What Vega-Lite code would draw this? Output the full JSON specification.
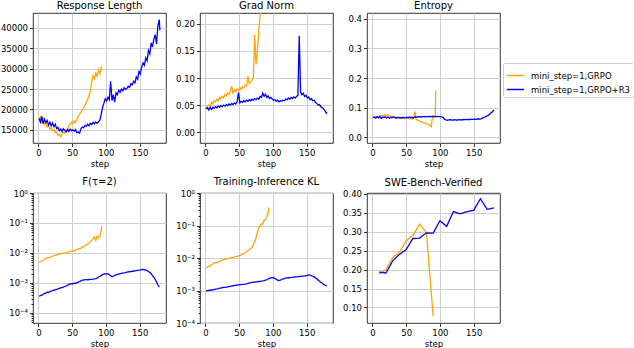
{
"$schema": "https://vega.github.io/schema/vega-lite/v6.json",
"padding": {"left": 0, "top": 0, "right": 0, "bottom": 0},
"config": {
 "font": "DejaVu Sans",
 "view": {"stroke": "#000", "strokeWidth": 0.8},
 "axis": {"domain": false, "grid": true, "gridColor": "#cfcfcf", "gridWidth": 1, "tickColor": "#000", "tickSize": 3.5, "tickWidth": 0.8, "labelColor": "#000", "labelFontSize": 8.5, "labelPadding": 2, "titleFontSize": 8.5, "titleFontWeight": "normal", "titleColor": "#000", "titlePadding": 2, "labelFlush": false},
 "title": {"fontSize": 10, "fontWeight": "normal", "color": "#000", "offset": 2}
},
"datasets": {
 "ts": [
{"s":1,"g":"GRPO","rl":17500,"gn":0.045,"en":0.068,"f":0.0049,"kl":0.0049},
{"s":3,"g":"GRPO","rl":18200,"gn":0.048,"en":0.066,"f":0.0051,"kl":0.0052},
{"s":5,"g":"GRPO","rl":17000,"gn":0.050,"en":0.069,"f":0.0054,"kl":0.0055},
{"s":7,"g":"GRPO","rl":17800,"gn":0.047,"en":0.067,"f":0.0056,"kl":0.0058},
{"s":9,"g":"GRPO","rl":16300,"gn":0.055,"en":0.070,"f":0.0060,"kl":0.0062},
{"s":11,"g":"GRPO","rl":16800,"gn":0.052,"en":0.068,"f":0.0065,"kl":0.0065},
{"s":13,"g":"GRPO","rl":15700,"gn":0.058,"en":0.072,"f":0.0068,"kl":0.0071},
{"s":15,"g":"GRPO","rl":16200,"gn":0.056,"en":0.074,"f":0.0069,"kl":0.0072},
{"s":17,"g":"GRPO","rl":15200,"gn":0.061,"en":0.072,"f":0.0071,"kl":0.0072},
{"s":19,"g":"GRPO","rl":15500,"gn":0.058,"en":0.076,"f":0.0074,"kl":0.0076},
{"s":21,"g":"GRPO","rl":14800,"gn":0.064,"en":0.073,"f":0.0078,"kl":0.0079},
{"s":23,"g":"GRPO","rl":15100,"gn":0.061,"en":0.075,"f":0.0081,"kl":0.0083},
{"s":25,"g":"GRPO","rl":14300,"gn":0.066,"en":0.072,"f":0.0083,"kl":0.0085},
{"s":27,"g":"GRPO","rl":14500,"gn":0.063,"en":0.070,"f":0.0087,"kl":0.0089},
{"s":29,"g":"GRPO","rl":13700,"gn":0.070,"en":0.071,"f":0.0089,"kl":0.0091},
{"s":31,"g":"GRPO","rl":13900,"gn":0.067,"en":0.068,"f":0.0091,"kl":0.0093},
{"s":33,"g":"GRPO","rl":13300,"gn":0.073,"en":0.069,"f":0.0093,"kl":0.0095},
{"s":35,"g":"GRPO","rl":14000,"gn":0.070,"en":0.067,"f":0.0095,"kl":0.0098},
{"s":37,"g":"GRPO","rl":14400,"gn":0.076,"en":0.068,"f":0.0098,"kl":0.0100},
{"s":39,"g":"GRPO","rl":14100,"gn":0.085,"en":0.066,"f":0.0100,"kl":0.0102},
{"s":41,"g":"GRPO","rl":15000,"gn":0.072,"en":0.067,"f":0.0102,"kl":0.0105},
{"s":43,"g":"GRPO","rl":14700,"gn":0.078,"en":0.065,"f":0.0105,"kl":0.0107},
{"s":45,"g":"GRPO","rl":16000,"gn":0.075,"en":0.066,"f":0.0107,"kl":0.0110},
{"s":47,"g":"GRPO","rl":16500,"gn":0.080,"en":0.064,"f":0.0110,"kl":0.0112},
{"s":49,"g":"GRPO","rl":16900,"gn":0.077,"en":0.065,"f":0.0112,"kl":0.0117},
{"s":51,"g":"GRPO","rl":16600,"gn":0.082,"en":0.064,"f":0.0115,"kl":0.0120},
{"s":53,"g":"GRPO","rl":17200,"gn":0.079,"en":0.063,"f":0.0120,"kl":0.0126},
{"s":55,"g":"GRPO","rl":16800,"gn":0.084,"en":0.062,"f":0.0123,"kl":0.0132},
{"s":57,"g":"GRPO","rl":17600,"gn":0.081,"en":0.063,"f":0.0129,"kl":0.0138},
{"s":59,"g":"GRPO","rl":18300,"gn":0.087,"en":0.061,"f":0.0135,"kl":0.0145},
{"s":61,"g":"GRPO","rl":18900,"gn":0.085,"en":0.062,"f":0.0138,"kl":0.0155},
{"s":63,"g":"GRPO","rl":19300,"gn":0.103,"en":0.086,"f":0.0145,"kl":0.0166},
{"s":65,"g":"GRPO","rl":19900,"gn":0.090,"en":0.060,"f":0.0155,"kl":0.0178},
{"s":67,"g":"GRPO","rl":20300,"gn":0.093,"en":0.057,"f":0.0166,"kl":0.0195},
{"s":69,"g":"GRPO","rl":21000,"gn":0.096,"en":0.055,"f":0.0174,"kl":0.0214},
{"s":71,"g":"GRPO","rl":21800,"gn":0.100,"en":0.053,"f":0.0186,"kl":0.0251},
{"s":73,"g":"GRPO","rl":22500,"gn":0.180,"en":0.052,"f":0.0195,"kl":0.0316},
{"s":75,"g":"GRPO","rl":23400,"gn":0.125,"en":0.050,"f":0.0214,"kl":0.0417},
{"s":77,"g":"GRPO","rl":24500,"gn":0.150,"en":0.048,"f":0.0234,"kl":0.060},
{"s":79,"g":"GRPO","rl":26800,"gn":0.185,"en":0.046,"f":0.0263,"kl":0.083},
{"s":81,"g":"GRPO","rl":28300,"gn":0.215,"en":0.045,"f":0.0295,"kl":0.100},
{"s":83,"g":"GRPO","rl":27500,"gn":0.26,"en":0.043,"f":0.0339,"kl":0.112},
{"s":85,"g":"GRPO","rl":28900,"gn":0.30,"en":0.040,"f":0.0263,"kl":0.110},
{"s":87,"g":"GRPO","rl":28100,"gn":0.34,"en":0.035,"f":0.0363,"kl":0.145},
{"s":89,"g":"GRPO","rl":29600,"gn":0.38,"en":0.066,"f":0.0316,"kl":0.151},
{"s":91,"g":"GRPO","rl":28700,"gn":0.42,"en":0.068,"f":0.0355,"kl":0.182},
{"s":93,"g":"GRPO","rl":30200,"gn":0.46,"en":0.069,"f":0.055,"kl":0.251},
{"s":94,"g":"GRPO","rl":29800,"gn":0.50,"en":0.158,"f":0.078,"kl":0.355},
{"s":1,"g":"GRPO+R3","rl":17800,"gn":0.043,"en":0.066,"f":0.00036,"kl":0.00100},
{"s":3,"g":"GRPO+R3","rl":16900,"gn":0.045,"en":0.068,"f":0.00038,"kl":0.00098},
{"s":5,"g":"GRPO+R3","rl":18300,"gn":0.041,"en":0.064,"f":0.00039,"kl":0.00101},
{"s":7,"g":"GRPO+R3","rl":16500,"gn":0.046,"en":0.069,"f":0.00041,"kl":0.00103},
{"s":9,"g":"GRPO+R3","rl":17600,"gn":0.042,"en":0.065,"f":0.00045,"kl":0.00102},
{"s":11,"g":"GRPO+R3","rl":16800,"gn":0.046,"en":0.070,"f":0.00046,"kl":0.00107},
{"s":13,"g":"GRPO+R3","rl":17300,"gn":0.044,"en":0.063,"f":0.00049,"kl":0.00106},
{"s":15,"g":"GRPO+R3","rl":16200,"gn":0.047,"en":0.068,"f":0.00048,"kl":0.00110},
{"s":17,"g":"GRPO+R3","rl":16900,"gn":0.045,"en":0.066,"f":0.00052,"kl":0.00112},
{"s":19,"g":"GRPO+R3","rl":16000,"gn":0.048,"en":0.069,"f":0.00053,"kl":0.00115},
{"s":21,"g":"GRPO+R3","rl":16700,"gn":0.046,"en":0.065,"f":0.00055,"kl":0.00119},
{"s":23,"g":"GRPO+R3","rl":15800,"gn":0.049,"en":0.068,"f":0.00057,"kl":0.00118},
{"s":25,"g":"GRPO+R3","rl":16400,"gn":0.047,"en":0.064,"f":0.00059,"kl":0.00122},
{"s":27,"g":"GRPO+R3","rl":15300,"gn":0.050,"en":0.067,"f":0.00061,"kl":0.00124},
{"s":29,"g":"GRPO+R3","rl":15600,"gn":0.048,"en":0.065,"f":0.00063,"kl":0.00125},
{"s":31,"g":"GRPO+R3","rl":14800,"gn":0.051,"en":0.068,"f":0.00066,"kl":0.00127},
{"s":33,"g":"GRPO+R3","rl":15200,"gn":0.049,"en":0.066,"f":0.00068,"kl":0.00130},
{"s":35,"g":"GRPO+R3","rl":14600,"gn":0.052,"en":0.064,"f":0.00070,"kl":0.00132},
{"s":37,"g":"GRPO+R3","rl":15300,"gn":0.050,"en":0.067,"f":0.00072,"kl":0.00134},
{"s":39,"g":"GRPO+R3","rl":14900,"gn":0.053,"en":0.065,"f":0.00076,"kl":0.00138},
{"s":41,"g":"GRPO+R3","rl":14500,"gn":0.051,"en":0.066,"f":0.00079,"kl":0.00140},
{"s":43,"g":"GRPO+R3","rl":15100,"gn":0.054,"en":0.064,"f":0.00083,"kl":0.00142},
{"s":45,"g":"GRPO+R3","rl":14600,"gn":0.052,"en":0.067,"f":0.00090,"kl":0.00145},
{"s":47,"g":"GRPO+R3","rl":15200,"gn":0.056,"en":0.065,"f":0.00092,"kl":0.00147},
{"s":49,"g":"GRPO+R3","rl":14800,"gn":0.073,"en":0.066,"f":0.00095,"kl":0.00150},
{"s":51,"g":"GRPO+R3","rl":15000,"gn":0.054,"en":0.067,"f":0.00094,"kl":0.00152},
{"s":53,"g":"GRPO+R3","rl":14700,"gn":0.057,"en":0.065,"f":0.00098,"kl":0.00151},
{"s":55,"g":"GRPO+R3","rl":15100,"gn":0.055,"en":0.068,"f":0.00096,"kl":0.00155},
{"s":57,"g":"GRPO+R3","rl":14300,"gn":0.058,"en":0.066,"f":0.00102,"kl":0.00156},
{"s":59,"g":"GRPO+R3","rl":14500,"gn":0.056,"en":0.067,"f":0.00107,"kl":0.00158},
{"s":61,"g":"GRPO+R3","rl":14200,"gn":0.059,"en":0.065,"f":0.00110,"kl":0.00160},
{"s":63,"g":"GRPO+R3","rl":15300,"gn":0.057,"en":0.068,"f":0.00117,"kl":0.00165},
{"s":65,"g":"GRPO+R3","rl":15700,"gn":0.060,"en":0.067,"f":0.00123,"kl":0.00170},
{"s":67,"g":"GRPO+R3","rl":15500,"gn":0.058,"en":0.069,"f":0.00125,"kl":0.00174},
{"s":69,"g":"GRPO+R3","rl":16100,"gn":0.061,"en":0.068,"f":0.00128,"kl":0.00178},
{"s":71,"g":"GRPO+R3","rl":15900,"gn":0.059,"en":0.070,"f":0.00129,"kl":0.00180},
{"s":73,"g":"GRPO+R3","rl":16400,"gn":0.062,"en":0.068,"f":0.00127,"kl":0.00182},
{"s":75,"g":"GRPO+R3","rl":16000,"gn":0.060,"en":0.069,"f":0.00130,"kl":0.00185},
{"s":77,"g":"GRPO+R3","rl":16600,"gn":0.063,"en":0.070,"f":0.00132,"kl":0.00186},
{"s":79,"g":"GRPO+R3","rl":16300,"gn":0.061,"en":0.068,"f":0.00131,"kl":0.00189},
{"s":81,"g":"GRPO+R3","rl":16800,"gn":0.066,"en":0.070,"f":0.00133,"kl":0.00191},
{"s":83,"g":"GRPO+R3","rl":16500,"gn":0.064,"en":0.069,"f":0.00136,"kl":0.00194},
{"s":85,"g":"GRPO+R3","rl":16900,"gn":0.072,"en":0.070,"f":0.00139,"kl":0.00198},
{"s":87,"g":"GRPO+R3","rl":16600,"gn":0.066,"en":0.069,"f":0.00145,"kl":0.00202},
{"s":89,"g":"GRPO+R3","rl":17000,"gn":0.070,"en":0.071,"f":0.00158,"kl":0.00208},
{"s":91,"g":"GRPO+R3","rl":17400,"gn":0.064,"en":0.069,"f":0.00165,"kl":0.00214},
{"s":93,"g":"GRPO+R3","rl":18800,"gn":0.067,"en":0.070,"f":0.00175,"kl":0.00225},
{"s":95,"g":"GRPO+R3","rl":20500,"gn":0.062,"en":0.069,"f":0.00188,"kl":0.00240},
{"s":97,"g":"GRPO+R3","rl":21500,"gn":0.064,"en":0.070,"f":0.00195,"kl":0.00245},
{"s":99,"g":"GRPO+R3","rl":22600,"gn":0.061,"en":0.069,"f":0.00202,"kl":0.00247},
{"s":101,"g":"GRPO+R3","rl":22100,"gn":0.059,"en":0.070,"f":0.00204,"kl":0.00244},
{"s":103,"g":"GRPO+R3","rl":23000,"gn":0.060,"en":0.068,"f":0.00200,"kl":0.00235},
{"s":105,"g":"GRPO+R3","rl":22400,"gn":0.057,"en":0.066,"f":0.00188,"kl":0.00220},
{"s":107,"g":"GRPO+R3","rl":26900,"gn":0.059,"en":0.060,"f":0.00172,"kl":0.00208},
{"s":109,"g":"GRPO+R3","rl":22200,"gn":0.056,"en":0.058,"f":0.00160,"kl":0.00202},
{"s":111,"g":"GRPO+R3","rl":23600,"gn":0.058,"en":0.057,"f":0.00170,"kl":0.00210},
{"s":113,"g":"GRPO+R3","rl":21800,"gn":0.057,"en":0.058,"f":0.00178,"kl":0.00218},
{"s":115,"g":"GRPO+R3","rl":24100,"gn":0.059,"en":0.059,"f":0.00185,"kl":0.00228},
{"s":117,"g":"GRPO+R3","rl":23600,"gn":0.058,"en":0.058,"f":0.00192,"kl":0.00233},
{"s":119,"g":"GRPO+R3","rl":24700,"gn":0.061,"en":0.057,"f":0.00198,"kl":0.00240},
{"s":121,"g":"GRPO+R3","rl":24200,"gn":0.060,"en":0.059,"f":0.00204,"kl":0.00244},
{"s":123,"g":"GRPO+R3","rl":25000,"gn":0.063,"en":0.058,"f":0.00210,"kl":0.00247},
{"s":125,"g":"GRPO+R3","rl":24600,"gn":0.061,"en":0.057,"f":0.00214,"kl":0.00250},
{"s":127,"g":"GRPO+R3","rl":25300,"gn":0.064,"en":0.059,"f":0.00218,"kl":0.00252},
{"s":129,"g":"GRPO+R3","rl":24900,"gn":0.062,"en":0.058,"f":0.00222,"kl":0.00255},
{"s":131,"g":"GRPO+R3","rl":25100,"gn":0.065,"en":0.059,"f":0.00228,"kl":0.00258},
{"s":133,"g":"GRPO+R3","rl":25700,"gn":0.063,"en":0.058,"f":0.00232,"kl":0.00260},
{"s":135,"g":"GRPO+R3","rl":25400,"gn":0.066,"en":0.060,"f":0.00236,"kl":0.00263},
{"s":137,"g":"GRPO+R3","rl":26300,"gn":0.068,"en":0.059,"f":0.00240,"kl":0.00266},
{"s":139,"g":"GRPO+R3","rl":26000,"gn":0.178,"en":0.060,"f":0.00245,"kl":0.00270},
{"s":141,"g":"GRPO+R3","rl":26900,"gn":0.074,"en":0.059,"f":0.00250,"kl":0.00272},
{"s":143,"g":"GRPO+R3","rl":26500,"gn":0.069,"en":0.060,"f":0.00252,"kl":0.00275},
{"s":145,"g":"GRPO+R3","rl":28000,"gn":0.072,"en":0.059,"f":0.00258,"kl":0.00278},
{"s":147,"g":"GRPO+R3","rl":27400,"gn":0.066,"en":0.061,"f":0.00262,"kl":0.00280},
{"s":149,"g":"GRPO+R3","rl":29300,"gn":0.068,"en":0.060,"f":0.00266,"kl":0.00284},
{"s":151,"g":"GRPO+R3","rl":28700,"gn":0.063,"en":0.061,"f":0.00272,"kl":0.00290},
{"s":153,"g":"GRPO+R3","rl":30400,"gn":0.065,"en":0.060,"f":0.00280,"kl":0.00300},
{"s":155,"g":"GRPO+R3","rl":31400,"gn":0.060,"en":0.061,"f":0.00280,"kl":0.00296},
{"s":157,"g":"GRPO+R3","rl":30800,"gn":0.062,"en":0.062,"f":0.00275,"kl":0.00288},
{"s":159,"g":"GRPO+R3","rl":32600,"gn":0.058,"en":0.061,"f":0.00265,"kl":0.00275},
{"s":161,"g":"GRPO+R3","rl":31900,"gn":0.059,"en":0.062,"f":0.00255,"kl":0.00262},
{"s":163,"g":"GRPO+R3","rl":34400,"gn":0.055,"en":0.064,"f":0.00240,"kl":0.00245},
{"s":165,"g":"GRPO+R3","rl":33600,"gn":0.053,"en":0.066,"f":0.00225,"kl":0.00229},
{"s":167,"g":"GRPO+R3","rl":36300,"gn":0.050,"en":0.068,"f":0.00200,"kl":0.00210},
{"s":169,"g":"GRPO+R3","rl":35300,"gn":0.051,"en":0.071,"f":0.00175,"kl":0.00192},
{"s":171,"g":"GRPO+R3","rl":37200,"gn":0.047,"en":0.073,"f":0.00155,"kl":0.00180},
{"s":173,"g":"GRPO+R3","rl":38300,"gn":0.045,"en":0.076,"f":0.00130,"kl":0.00168},
{"s":175,"g":"GRPO+R3","rl":36000,"gn":0.043,"en":0.081,"f":0.00108,"kl":0.00155},
{"s":177,"g":"GRPO+R3","rl":40500,"gn":0.040,"en":0.084,"f":0.00085,"kl":0.00148},
{"s":179,"g":"GRPO+R3","rl":42000,"gn":0.035,"en":0.089,"f":0.00073,"kl":0.00140},
{"s":180,"g":"GRPO+R3","rl":39300,"gn":0.037,"en":0.092,"f":null,"kl":0.00135}
 ],
 "swe": [
{"s":10,"g":"GRPO","v":0.188},{"s":20,"g":"GRPO","v":0.200},{"s":30,"g":"GRPO","v":0.232},{"s":40,"g":"GRPO","v":0.245},{"s":50,"g":"GRPO","v":0.276},{"s":60,"g":"GRPO","v":0.290},{"s":70,"g":"GRPO","v":0.320},{"s":80,"g":"GRPO","v":0.298},{"s":90,"g":"GRPO","v":0.077},
{"s":10,"g":"GRPO+R3","v":0.193},{"s":20,"g":"GRPO+R3","v":0.191},{"s":30,"g":"GRPO+R3","v":0.223},{"s":40,"g":"GRPO+R3","v":0.240},{"s":50,"g":"GRPO+R3","v":0.253},{"s":60,"g":"GRPO+R3","v":0.282},{"s":70,"g":"GRPO+R3","v":0.283},{"s":80,"g":"GRPO+R3","v":0.297},{"s":90,"g":"GRPO+R3","v":0.296},{"s":100,"g":"GRPO+R3","v":0.329},{"s":110,"g":"GRPO+R3","v":0.314},{"s":120,"g":"GRPO+R3","v":0.353},{"s":130,"g":"GRPO+R3","v":0.347},{"s":140,"g":"GRPO+R3","v":0.353},{"s":150,"g":"GRPO+R3","v":0.356},{"s":160,"g":"GRPO+R3","v":0.387},{"s":170,"g":"GRPO+R3","v":0.359},{"s":180,"g":"GRPO+R3","v":0.363}
 ]
},
"columns": 3,
"spacing": {"row": 50, "column": 34},
"bounds": "flush",
"resolve": {"scale": {"color": "shared"}},
"concat": [
  {"title": "Response Length", "width": 133, "height": 130, "data": {"name": "ts"}, "mark": {"type": "line", "clip": true, "strokeWidth": 1.3},
   "encoding": {
    "x": {"field": "s", "type": "quantitative", "scale": {"domain": [-8, 189], "nice": false}, "axis": {"title": "step", "values": [0, 50, 100, 150]}},
    "y": {"field": "rl", "type": "quantitative", "scale": {"domain": [11800, 43600], "nice": false, "zero": false}, "axis": {"title": null, "values": [15000, 20000, 25000, 30000, 35000, 40000], "format": "d"}},
    "color": {"field": "g", "type": "nominal", "scale": {"domain": ["GRPO", "GRPO+R3"], "range": ["#FFA500", "#0000FF"]},
     "legend": {"title": null, "orient": "none", "legendX": 470, "legendY": 50, "labelExpr": "'mini_step=1,' + datum.label", "symbolType": "stroke", "symbolStrokeWidth": 1.5, "symbolSize": 300, "labelFontSize": 8.5, "labelColor": "#000", "strokeColor": "#d0d0d0", "padding": 3, "cornerRadius": 2, "fillColor": "#fff", "rowPadding": -4, "labelOffset": 6}}
   }},
  {"title": "Grad Norm", "width": 133, "height": 130, "data": {"name": "ts"}, "mark": {"type": "line", "clip": true, "strokeWidth": 1.3},
   "encoding": {
    "x": {"field": "s", "type": "quantitative", "scale": {"domain": [-8, 189], "nice": false}, "axis": {"title": "step", "values": [0, 50, 100, 150]}},
    "y": {"field": "gn", "type": "quantitative", "scale": {"domain": [-0.02, 0.22], "nice": false, "zero": false}, "axis": {"title": null, "values": [0, 0.05, 0.1, 0.15, 0.2], "format": ".2f"}},
    "color": {"field": "g", "type": "nominal", "scale": {"domain": ["GRPO", "GRPO+R3"], "range": ["#FFA500", "#0000FF"]},
     "legend": {"title": null, "orient": "none", "legendX": 470, "legendY": 50, "labelExpr": "'mini_step=1,' + datum.label", "symbolType": "stroke", "symbolStrokeWidth": 1.5, "symbolSize": 300, "labelFontSize": 8.5, "labelColor": "#000", "strokeColor": "#d0d0d0", "padding": 3, "cornerRadius": 2, "fillColor": "#fff", "rowPadding": -4, "labelOffset": 6}}
   }},
  {"title": "Entropy", "width": 133, "height": 130, "data": {"name": "ts"}, "mark": {"type": "line", "clip": true, "strokeWidth": 1.3},
   "encoding": {
    "x": {"field": "s", "type": "quantitative", "scale": {"domain": [-8, 189], "nice": false}, "axis": {"title": "step", "values": [0, 50, 100, 150]}},
    "y": {"field": "en", "type": "quantitative", "scale": {"domain": [-0.02, 0.42], "nice": false, "zero": false}, "axis": {"title": null, "values": [0, 0.1, 0.2, 0.3, 0.4], "format": ".1f"}},
    "color": {"field": "g", "type": "nominal", "scale": {"domain": ["GRPO", "GRPO+R3"], "range": ["#FFA500", "#0000FF"]},
     "legend": {"title": null, "orient": "none", "legendX": 470, "legendY": 50, "labelExpr": "'mini_step=1,' + datum.label", "symbolType": "stroke", "symbolStrokeWidth": 1.5, "symbolSize": 300, "labelFontSize": 8.5, "labelColor": "#000", "strokeColor": "#d0d0d0", "padding": 3, "cornerRadius": 2, "fillColor": "#fff", "rowPadding": -4, "labelOffset": 6}}
   }},
  {"title": "F(τ=2)", "width": 133, "height": 130, "data": {"name": "ts"}, "mark": {"type": "line", "clip": true, "strokeWidth": 1.3},
   "encoding": {
    "x": {"field": "s", "type": "quantitative", "scale": {"domain": [-8, 189], "nice": false}, "axis": {"title": "step", "values": [0, 50, 100, 150]}},
    "y": {"field": "f", "type": "quantitative", "scale": {"type": "log", "domain": [0.000046, 1], "nice": false},
     "axis": {"title": null, "values": [0.00005,0.00006,0.00007,0.00008,0.00009,0.0001,0.0002,0.0003,0.0004,0.0005,0.0006,0.0007,0.0008,0.0009,0.001,0.002,0.003,0.004,0.005,0.006,0.007,0.008,0.009,0.01,0.02,0.03,0.04,0.05,0.06,0.07,0.08,0.09,0.1,0.2,0.3,0.4,0.5,0.6,0.7,0.8,0.9,1],
      "labelExpr": "abs(log(datum.value)/LN10 - round(log(datum.value)/LN10)) < 0.01 ? ['10⁰','10⁻¹','10⁻²','10⁻³','10⁻⁴'][-round(log(datum.value)/LN10)] : ''",
      "labelOverlap": false,
      "tickSize": {"condition": {"test": "abs(log(datum.value)/LN10 - round(log(datum.value)/LN10)) < 0.01", "value": 3.5}, "value": 2},
      "gridOpacity": {"condition": {"test": "abs(log(datum.value)/LN10 - round(log(datum.value)/LN10)) < 0.01", "value": 1}, "value": 0}}},
    "color": {"field": "g", "type": "nominal", "scale": {"domain": ["GRPO", "GRPO+R3"], "range": ["#FFA500", "#0000FF"]},
     "legend": {"title": null, "orient": "none", "legendX": 470, "legendY": 50, "labelExpr": "'mini_step=1,' + datum.label", "symbolType": "stroke", "symbolStrokeWidth": 1.5, "symbolSize": 300, "labelFontSize": 8.5, "labelColor": "#000", "strokeColor": "#d0d0d0", "padding": 3, "cornerRadius": 2, "fillColor": "#fff", "rowPadding": -4, "labelOffset": 6}}
   }},
  {"title": "Training-Inference KL", "width": 133, "height": 130, "data": {"name": "ts"}, "mark": {"type": "line", "clip": true, "strokeWidth": 1.3},
   "encoding": {
    "x": {"field": "s", "type": "quantitative", "scale": {"domain": [-8, 189], "nice": false}, "axis": {"title": "step", "values": [0, 50, 100, 150]}},
    "y": {"field": "kl", "type": "quantitative", "scale": {"type": "log", "domain": [0.0001, 1], "nice": false},
     "axis": {"title": null, "values": [0.0001,0.0002,0.0003,0.0004,0.0005,0.0006,0.0007,0.0008,0.0009,0.001,0.002,0.003,0.004,0.005,0.006,0.007,0.008,0.009,0.01,0.02,0.03,0.04,0.05,0.06,0.07,0.08,0.09,0.1,0.2,0.3,0.4,0.5,0.6,0.7,0.8,0.9,1],
      "labelExpr": "abs(log(datum.value)/LN10 - round(log(datum.value)/LN10)) < 0.01 ? ['10⁰','10⁻¹','10⁻²','10⁻³','10⁻⁴'][-round(log(datum.value)/LN10)] : ''",
      "labelOverlap": false,
      "tickSize": {"condition": {"test": "abs(log(datum.value)/LN10 - round(log(datum.value)/LN10)) < 0.01", "value": 3.5}, "value": 2},
      "gridOpacity": {"condition": {"test": "abs(log(datum.value)/LN10 - round(log(datum.value)/LN10)) < 0.01", "value": 1}, "value": 0}}},
    "color": {"field": "g", "type": "nominal", "scale": {"domain": ["GRPO", "GRPO+R3"], "range": ["#FFA500", "#0000FF"]},
     "legend": {"title": null, "orient": "none", "legendX": 470, "legendY": 50, "labelExpr": "'mini_step=1,' + datum.label", "symbolType": "stroke", "symbolStrokeWidth": 1.5, "symbolSize": 300, "labelFontSize": 8.5, "labelColor": "#000", "strokeColor": "#d0d0d0", "padding": 3, "cornerRadius": 2, "fillColor": "#fff", "rowPadding": -4, "labelOffset": 6}}
   }},
  {"title": "SWE-Bench-Verified", "width": 133, "height": 130, "data": {"name": "swe"}, "mark": {"type": "line", "clip": true, "strokeWidth": 1.3},
   "encoding": {
    "x": {"field": "s", "type": "quantitative", "scale": {"domain": [-8, 189], "nice": false}, "axis": {"title": "step", "values": [0, 50, 100, 150]}},
    "y": {"field": "v", "type": "quantitative", "scale": {"domain": [0.059, 0.402], "nice": false, "zero": false}, "axis": {"title": null, "values": [0.1, 0.15, 0.2, 0.25, 0.3, 0.35, 0.4], "format": ".2f"}},
    "color": {"field": "g", "type": "nominal", "scale": {"domain": ["GRPO", "GRPO+R3"], "range": ["#FFA500", "#0000FF"]},
     "legend": {"title": null, "orient": "none", "legendX": 470, "legendY": 50, "labelExpr": "'mini_step=1,' + datum.label", "symbolType": "stroke", "symbolStrokeWidth": 1.5, "symbolSize": 300, "labelFontSize": 8.5, "labelColor": "#000", "strokeColor": "#d0d0d0", "padding": 3, "cornerRadius": 2, "fillColor": "#fff", "rowPadding": -4, "labelOffset": 6}}
   }}
]
}
